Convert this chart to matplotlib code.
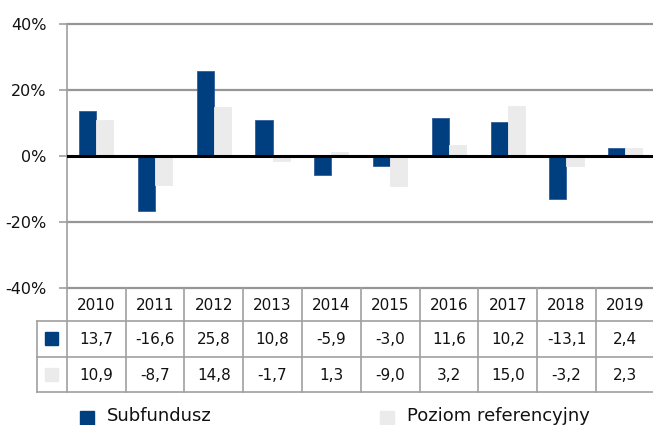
import matplotlib
matplotlib.use("Agg")
import matplotlib.pyplot as plt
from matplotlib.patches import Rectangle
import numpy as np

years = ["2010", "2011", "2012", "2013", "2014", "2015", "2016", "2017", "2018", "2019"]
subfundusz = [13.7, -16.6, 25.8, 10.8, -5.9, -3.0, 11.6, 10.2, -13.1, 2.4]
referencyjny = [10.9, -8.7, 14.8, -1.7, 1.3, -9.0, 3.2, 15.0, -3.2, 2.3]
series_names = ["Subfundusz", "Poziom referencyjny"]
yticks = [-40, -20, 0, 20, 40]

BLUE = "#003F7F"
GRAY = "#EBEBEB"
LINE = "#A0A0A0"
TXT = "#111111"
FONT = "DejaVu Sans"
plt.rcParams["font.family"] = [FONT]

W, H = 653, 425
fig = plt.figure(figsize=(W / 100, H / 100), dpi=100)

def px_rect(x0, y0, x1, y1):
    return [x0 / W, 1 - y1 / H, (x1 - x0) / W, (y1 - y0) / H]

colw = 58.8
ax_left, ax_right = 66.7, 66.7 + colw * len(years)
ax_top, ax_bot = 24.0, 287.7

ax = fig.add_axes(px_rect(ax_left, ax_top, ax_right, ax_bot))
x = np.arange(len(years))
bw = 0.29
ax.bar(x - bw / 2, subfundusz, bw, color=BLUE, edgecolor="#2F5E9A", linewidth=0.6, zorder=3)
ax.bar(x + bw / 2, referencyjny, bw, color=GRAY, edgecolor=GRAY, linewidth=0.6, zorder=3)
ax.set_xlim(-0.5, len(years) - 0.5)
ax.set_ylim(-40, 40)
ax.set_yticks(yticks)
ax.set_yticklabels([f"{v}%" for v in yticks], fontsize=11.5, color=TXT)
ax.set_xticks([])
for v in yticks:
    if v != 0:
        ax.axhline(v, color="#969696", linewidth=1.6, zorder=1, clip_on=False)
ax.axhline(0, color="black", linewidth=2.2, zorder=4)
for s in ["top", "right", "bottom"]:
    ax.spines[s].set_visible(False)
ax.spines["left"].set_color(LINE)
ax.spines["left"].set_linewidth(1.2)
ax.tick_params(axis="y", length=6, width=1.2, color=LINE, pad=8.5)

# table
tab_left = 36.7
tab_top, tab_bot = ax_bot, 392.3
hdr_h, row_h = 33.0, 35.8
tax = fig.add_axes(px_rect(tab_left, tab_top, ax_right, tab_bot))
xl = -0.5 - (ax_left - tab_left) / colw
tax.set_xlim(xl, len(years) - 0.5)
tax.set_ylim(tab_bot - tab_top, 0)
tax.axis("off")
lk = dict(color=LINE, linewidth=1.2, clip_on=False)
for yy in [hdr_h, hdr_h + row_h, hdr_h + 2 * row_h]:
    tax.plot([xl, len(years) - 0.5], [yy, yy], **lk)
tax.plot([xl, xl], [hdr_h, hdr_h + 2 * row_h], **lk)
for i in range(len(years) + 1):
    tax.plot([i - 0.5, i - 0.5], [0, hdr_h + 2 * row_h], **lk)

fmt = lambda v: f"{v:.1f}".replace(".", ",")
for i, yr in enumerate(years):
    tax.text(i, hdr_h / 2 + 1, yr, ha="center", va="center", fontsize=11, color=TXT)
    tax.text(i, hdr_h + row_h / 2 + 1, fmt(subfundusz[i]), ha="center", va="center", fontsize=11, color=TXT)
    tax.text(i, hdr_h + 1.5 * row_h + 1, fmt(referencyjny[i]), ha="center", va="center", fontsize=11, color=TXT)

kx = (xl + (-0.5)) / 2
ks = 12.5 / colw
for r, c in enumerate([BLUE, GRAY]):
    yc = hdr_h + (r + 0.5) * row_h
    tax.add_patch(Rectangle((kx - ks / 2, yc - 6.5), ks, 13, color=c, clip_on=False))

# bottom legend
lax = fig.add_axes([0, 0, 1, 1])
lax.set_xlim(0, W)
lax.set_ylim(H, 0)
lax.axis("off")
for (sx, tx), c, name in zip([(80, 107), (380, 407)], [BLUE, GRAY], series_names):
    lax.add_patch(Rectangle((sx, 410.5), 14, 14, color=c))
    lax.text(tx, 416, name, ha="left", va="center", fontsize=13, color=TXT)

fig.savefig("out.png", dpi=100)
